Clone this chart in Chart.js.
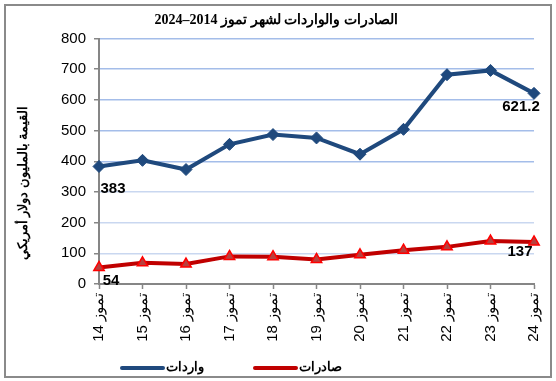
<!DOCTYPE html>
<html>
<head>
<meta charset="utf-8">
<script src="https://cdn.jsdelivr.net/npm/chart.js@4.4.1/dist/chart.umd.min.js"></script>
<style>
  html, body { margin: 0; padding: 0; background: #fff; }
  #wrap { position: relative; width: 556px; height: 381px; overflow: hidden; }
  #frame { position: absolute; left: 4px; top: 4px; width: 544px; height: 370px; border: 2px solid #8a8a8a; box-sizing: content-box; pointer-events: none; }
  canvas { position: absolute; left: 0; top: 0; }
</style>
</head>
<body>
<div id="wrap">
  <canvas id="c" width="556" height="381"></canvas>
  <div id="frame"></div>
</div>
<script>
// ---- data ----
const categories = ['14', '15', '16', '17', '18', '19', '20', '21', '22', '23', '24'];
const monthName = 'تموز';
const importsValues = [383, 403, 373, 455, 487, 476, 423, 504, 682, 696, 621.2];
const exportsValues = [54, 69, 65, 90, 89, 80, 95, 110, 121, 140, 137];
const yTicks = [0, 100, 200, 300, 400, 500, 600, 700, 800];
const importsName = 'واردات';
const exportsName = 'صادرات';
const titleText = 'الصادرات والواردات لشهر تموز 2014–2024';
const yAxisTitle = 'القيمة بالمليون دولار أمريكي';

const xLabels = categories.map(c => monthName + ' ' + c);

const pointLabelsPlugin = {
  id: 'pointLabels',
  afterDatasetsDraw(chart, args, opts) {
    const ctx = chart.ctx;
    ctx.save();
    ctx.font = opts.font;
    ctx.fillStyle = opts.color;
    ctx.textAlign = 'center';
    ctx.textBaseline = 'middle';
    opts.items.forEach(it => {
      const el = chart.getDatasetMeta(it.dataset).data[it.index];
      const v = chart.data.datasets[it.dataset].data[it.index];
      ctx.fillText(String(v), el.x + it.dx, el.y + it.dy);
    });
    ctx.restore();
  }
};

const axisTitlePlugin = {
  id: 'axisTitle',
  afterDraw(chart, args, opts) {
    const ctx = chart.ctx;
    ctx.save();
    ctx.translate(opts.x, opts.y);
    ctx.rotate(-Math.PI / 2);
    ctx.font = opts.font;
    ctx.fillStyle = opts.color;
    ctx.textAlign = 'center';
    ctx.textBaseline = 'middle';
    ctx.fillText(opts.text, 0, 0);
    ctx.restore();
  }
};

const customLegendPlugin = {
  id: 'customLegend',
  afterDraw(chart, args, opts) {
    const ctx = chart.ctx;
    ctx.save();
    chart.data.datasets.forEach((ds, i) => {
      const p = opts.items[i];
      ctx.strokeStyle = ds.borderColor;
      ctx.lineWidth = ds.borderWidth;
      ctx.lineCap = 'round';
      ctx.beginPath();
      ctx.moveTo(p.x, opts.y);
      ctx.lineTo(p.x + opts.lineLength, opts.y);
      ctx.stroke();
      ctx.fillStyle = ds.pointBackgroundColor;
      ctx.strokeStyle = ds.pointBorderColor;
      ctx.lineWidth = ds.pointBorderWidth;
      Chart.helpers.drawPoint(ctx, {
        pointStyle: ds.pointStyle,
        rotation: 0,
        borderWidth: ds.pointBorderWidth
      }, p.x + opts.lineLength / 2, opts.y, opts.markerRadius[i]);
      ctx.font = opts.font;
      ctx.fillStyle = opts.color;
      ctx.textAlign = 'left';
      ctx.textBaseline = 'middle';
      ctx.fillText(ds.label, p.x + opts.lineLength + 3, opts.y - 1);
    });
    ctx.restore();
  }
};

new Chart(document.getElementById('c'), {
  type: 'line',
  data: {
    labels: xLabels,
    datasets: [
      {
        label: importsName,
        data: importsValues,
        borderColor: '#1F497D',
        borderWidth: 4,
        pointStyle: 'rectRot',
        pointRadius: 6,
        pointBackgroundColor: '#1F497D',
        pointBorderColor: '#1F497D',
        pointBorderWidth: 1,
        tension: 0,
        clip: false
      },
      {
        label: exportsName,
        data: exportsValues,
        borderColor: '#C00000',
        borderWidth: 4,
        pointStyle: 'triangle',
        pointRadius: 6,
        pointBackgroundColor: '#B8403E',
        pointBorderColor: '#FF0000',
        pointBorderWidth: 1.5,
        tension: 0,
        clip: false
      }
    ]
  },
  options: {
    responsive: false,
    animation: false,
    devicePixelRatio: 1,
    layout: { padding: { left: 15, right: 19, top: 0, bottom: 0 } },
    plugins: {
      legend: { display: false },
      tooltip: { enabled: false },
      title: {
        display: true,
        text: titleText,
        color: '#000',
        font: { family: '"Liberation Serif", "Times New Roman", serif', size: 14, weight: 'bold', lineHeight: 1 },
        padding: { top: 13, bottom: 11.5 }
      },
      pointLabels: {
        font: 'bold 15px "Liberation Sans", Arial, sans-serif',
        color: '#000',
        items: [
          { dataset: 0, index: 0, dx: 14, dy: 22 },
          { dataset: 0, index: 10, dx: -13, dy: 13 },
          { dataset: 1, index: 0, dx: 12, dy: 13 },
          { dataset: 1, index: 10, dx: -14, dy: 10 }
        ]
      },
      axisTitle: {
        text: yAxisTitle,
        x: 23,
        y: 183,
        font: 'bold 13px "Liberation Sans", Arial, sans-serif',
        color: '#000'
      },
      customLegend: {
        y: 368,
        lineLength: 41,
        markerRadius: [4, 5],
        items: [{ x: 122 }, { x: 255 }],
        font: 'bold 13px "Liberation Sans", Arial, sans-serif',
        color: '#000'
      }
    },
    scales: {
      x: {
        offset: false,
        afterFit(scale) { scale.height = 97; },
        grid: {
          display: true,
          drawOnChartArea: false,
          drawTicks: true,
          tickLength: 5,
          tickColor: '#868686',
          tickWidth: 1.5
        },
        border: { display: true, color: '#868686', width: 2 },
        ticks: {
          autoSkip: false,
          minRotation: 90,
          maxRotation: 90,
          padding: 4,
          color: '#000',
          font: { family: '"Liberation Sans", Arial, sans-serif', size: 15 }
        }
      },
      y: {
        min: 0,
        max: 800,
        afterFit(scale) { scale.width = 84; },
        afterBuildTicks(scale) { scale.ticks = yTicks.map(v => ({ value: v })); },
        grid: {
          color: ctx => (ctx.tick && ctx.tick.value >= 400) ? '#A4BDE9' : '#C9D7F0',
          lineWidth: 1.5,
          drawTicks: true,
          tickLength: 5,
          tickColor: '#868686',
          tickWidth: 1.5
        },
        border: { display: true, color: '#868686', width: 2 },
        ticks: {
          padding: 8,
          color: '#000',
          font: { family: '"Liberation Sans", Arial, sans-serif', size: 15 }
        }
      }
    }
  },
  plugins: [pointLabelsPlugin, axisTitlePlugin, customLegendPlugin]
});
</script>
</body>
</html>
